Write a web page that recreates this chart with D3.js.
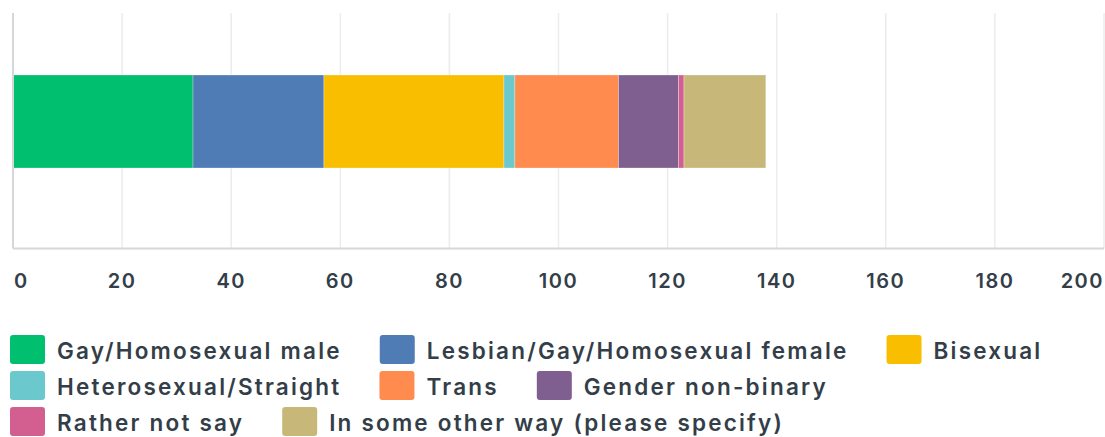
<!DOCTYPE html>
<html>
<head>
<meta charset="utf-8">
<script src="https://cdn.jsdelivr.net/npm/d3@7"></script>
<style>
  html, body { margin: 0; padding: 0; background: #fff; }
  svg { display: block; }
  .tick-label { font-family: Inter, sans-serif; font-weight: 600; font-size: 20px; fill: #333e48; letter-spacing: 1.5px; }
  .legend-label { font-family: Inter, sans-serif; font-weight: 600; font-size: 22.5px; fill: #333e48; letter-spacing: 2.2px; }
</style>
</head>
<body>
<svg id="chart" width="1105" height="437"></svg>
<script>
// ── Data ──
const categories = [
    "Gay/Homosexual male",
    "Lesbian/Gay/Homosexual female",
    "Bisexual",
    "Heterosexual/Straight",
    "Trans",
    "Gender non-binary",
    "Rather not say",
    "In some other way (please specify)"
];
const counts = [33, 24, 33, 2, 19, 11, 1, 15];
const colors = ["#00bf6f", "#507cb6", "#f9be00", "#6bc8cd", "#ff8b4f", "#7f5f90", "#d25f90", "#c7b879"];
const tickValues = [0, 20, 40, 60, 80, 100, 120, 140, 160, 180, 200];

const W = 1105, H = 437;
const plot = { left: 13, right: 1104, top: 13, bottom: 248.5 };

const svg = d3.select("#chart");

const x = d3.scaleLinear().domain([0, 200]).range([plot.left, plot.right]);
const y = d3.scaleBand().domain(["all"]).range([plot.top, 230]).padding(0.4);

// stacked segments
let acc = 0;
const segments = counts.map((v, i) => {
    const s = { name: categories[i], x0: acc, x1: acc + v, color: colors[i] };
    acc += v;
    return s;
});

// ── Gridlines ──
svg.append("g")
    .selectAll("line")
    .data(tickValues.slice(1))
    .join("line")
    .attr("x1", d => x(d)).attr("x2", d => x(d))
    .attr("y1", plot.top).attr("y2", plot.bottom)
    .attr("stroke", "#ebecec")
    .attr("stroke-width", 1.5);

// ── Bars ──
svg.append("g")
    .selectAll("rect")
    .data(segments)
    .join("rect")
    .attr("x", d => x(d.x0))
    .attr("y", y("all"))
    .attr("width", d => x(d.x1) - x(d.x0))
    .attr("height", y.bandwidth())
    .attr("fill", d => d.color)
    .attr("stroke", "rgba(255,255,255,0.35)")
    .attr("stroke-width", 0.8);

// ── Axis lines ──
svg.append("line")
    .attr("x1", plot.left).attr("x2", plot.left)
    .attr("y1", plot.top).attr("y2", plot.bottom)
    .attr("stroke", "#d6d7d8").attr("stroke-width", 2);
svg.append("line")
    .attr("x1", plot.left).attr("x2", plot.right)
    .attr("y1", plot.bottom).attr("y2", plot.bottom)
    .attr("stroke", "#d6d7d8").attr("stroke-width", 2);

// ── Tick labels ── (first and last kept inside the frame)
svg.append("g")
    .selectAll("text")
    .data(tickValues)
    .join("text")
    .attr("class", "tick-label")
    .attr("x", (d, i) => i === 0 ? x(d) + 1 : (i === tickValues.length - 1 ? W - 1 : x(d)))
    .attr("y", 288)
    .attr("text-anchor", (d, i) => i === 0 ? "start" : (i === tickValues.length - 1 ? "end" : "middle"))
    .text(d => d);

// ── Legend (flow layout) ──
const sw = 35, sh = 29, gapText = 12, gapItem = 38, maxX = 1065;
const legendTop = 335, rowPitch = 36;
const legend = svg.append("g");

let lx = 10, row = 0;
segments.forEach(d => {
    const g = legend.append("g");
    const t = g.append("text").attr("class", "legend-label").text(d.name);
    const tw = t.node().getComputedTextLength();
    const itemW = sw + gapText + tw;
    if (lx > 10 && lx + itemW > maxX) { row++; lx = 10; }
    const ty = legendTop + row * rowPitch;
    g.insert("rect", "text")
        .attr("x", lx).attr("y", ty)
        .attr("width", sw).attr("height", sh)
        .attr("rx", 3)
        .attr("fill", d.color);
    t.attr("x", lx + sw + gapText).attr("y", ty + sh / 2 + 9.5);
    lx += itemW + gapItem;
});
</script>
</body>
</html>
